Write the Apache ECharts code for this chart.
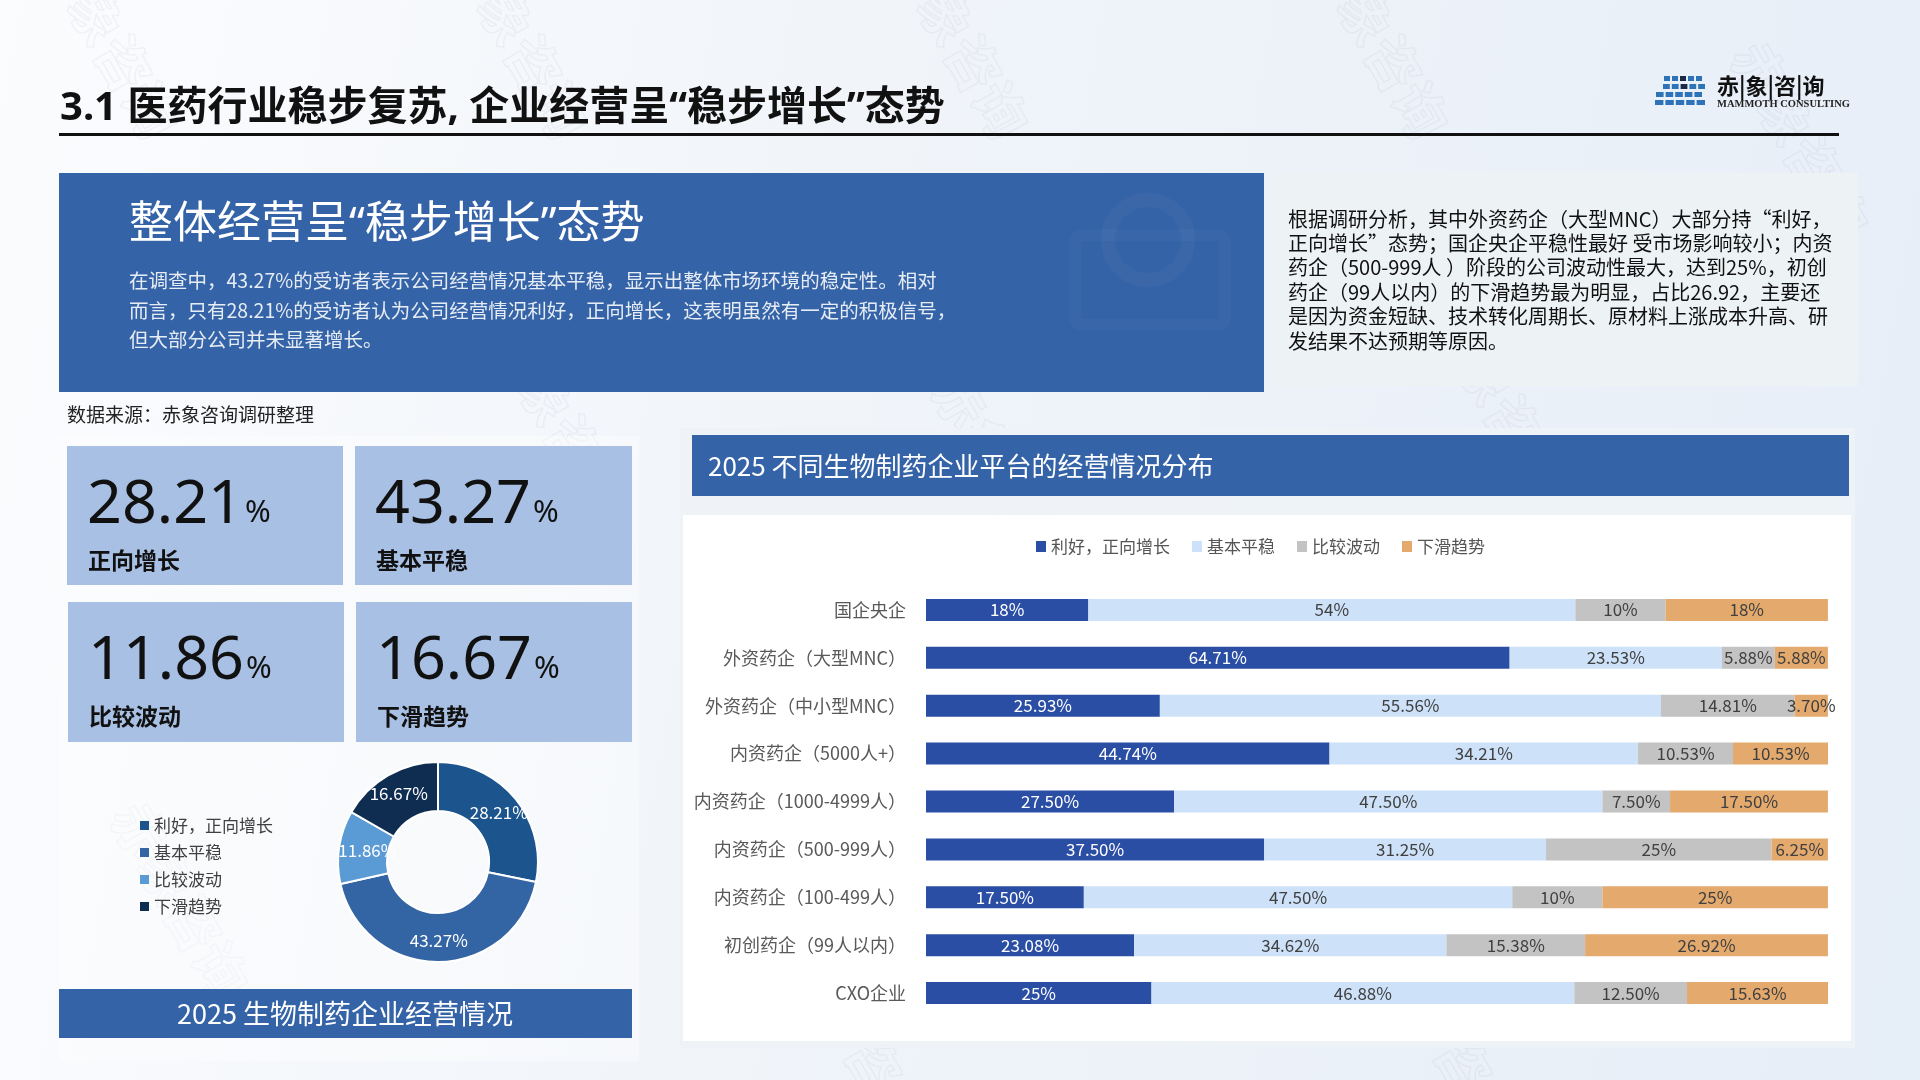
<!DOCTYPE html>
<html>
<head>
<meta charset="utf-8">
<script src="https://cdn.jsdelivr.net/npm/echarts@6/dist/echarts.min.js"></script>
<style>
  html, body { margin: 0; padding: 0; }
  body { background: linear-gradient(100deg, #fbfcfe 0%, #f0f4f9 45%, #e6eef8 100%); }
  #main { width: 1920px; height: 1080px; }
</style>
</head>
<body>
<div id="main"></div>
<script>
// ---- data ----
var categories = ['国企央企', '外资药企（大型MNC）', '外资药企（中小型MNC）', '内资药企（5000人+）',
  '内资药企（1000-4999人）', '内资药企（500-999人）', '内资药企（100-499人）', '初创药企（99人以内）', 'CXO企业'];
var statusNames = ['利好，正向增长', '基本平稳', '比较波动', '下滑趋势'];
var growthValues = [18, 64.71, 25.93, 44.74, 27.5, 37.5, 17.5, 23.08, 25];
var stableValues = [54, 23.53, 55.56, 34.21, 47.5, 31.25, 47.5, 34.62, 46.88];
var volatileValues = [10, 5.88, 14.81, 10.53, 7.5, 25, 10, 15.38, 12.5];
var declineValues = [18, 5.88, 3.7, 10.53, 17.5, 6.25, 25, 26.92, 15.63];
var overallValues = [28.21, 43.27, 11.86, 16.67];
var cardLabels = ['正向增长', '基本平稳', '比较波动', '下滑趋势'];

var barColors = ['#2B4EA5', '#CDE1F8', '#C3C3C3', '#E3A96D'];
var pieColors = ['#1C548E', '#3364A4', '#5B9BD5', '#0F2C51'];
var CJK = '"Noto Sans CJK SC", "Noto Sans", sans-serif';
var LATIN_CJK = '"Noto Sans", "Noto Sans CJK SC", sans-serif';
var BLUE = '#3563A7';

var chart = echarts.init(document.getElementById('main'));

function fmtPct(v) {
  return (Math.round(v) === v ? v : v.toFixed(2)) + '%';
}

function txt(x, y, text, size, fill, extra) {
  var st = { text: text, fill: fill, fontSize: size, fontFamily: CJK, align: 'left', verticalAlign: 'middle' };
  for (var k in extra) st[k] = extra[k];
  return { type: 'text', x: x, y: y, style: st };
}

var graphics = [];

// faint watermarks
var wmPos = [[110, 40], [520, 40], [960, 40], [1380, 40], [1800, 140], [560, 420], [1000, 470], [1500, 400],
  [180, 900], [760, 760], [1230, 700], [1700, 740], [860, 1040], [1450, 1040]];
wmPos.forEach(function (p) {
  graphics.push({ type: 'text', x: p[0], y: p[1], rotation: -Math.PI / 3,
    style: { text: '赤象咨询', fill: 'none', stroke: 'rgba(110,120,135,0.07)', lineWidth: 1.5, fontSize: 54, fontFamily: CJK, fontWeight: 'bold', align: 'center', verticalAlign: 'middle' } });
});

// title
graphics.push(txt(60, 109, '3.1 医药行业稳步复苏, 企业经营呈“稳步增长”态势', 40, '#111', { fontWeight: 'bold', fontFamily: LATIN_CJK }));
graphics.push({ type: 'rect', shape: { x: 59, y: 133, width: 1780, height: 3 }, style: { fill: '#111' } });

// logo
var stripeRows = [[1664, 40], [1660, 44], [1656, 48], [1652, 52]];
stripeRows.forEach(function (r, i) {
  for (var j = 0; j < 5; j++) {
    graphics.push({ type: 'rect', shape: { x: r[0] + j * (r[1] / 5) + (i % 2) * 3, y: 76 + i * 8, width: r[1] / 5 - 2, height: 5 },
      style: { fill: j === 2 && i < 2 ? '#1a2a44' : '#2E72B8' } });
  }
});
graphics.push(txt(1717, 86, '赤|象|咨|询', 22, '#111', { fontWeight: 'bold' }));
graphics.push(txt(1717, 104, 'MAMMOTH CONSULTING', 10.5, '#222', { fontWeight: 'bold', fontFamily: '"Liberation Serif", serif' }));

// banner
graphics.push({ type: 'rect', shape: { x: 59, y: 173, width: 1205, height: 219 }, style: { fill: BLUE } });
graphics.push({ type: 'circle', shape: { cx: 1148, cy: 240, r: 40 }, style: { fill: 'none', stroke: 'rgba(255,255,255,0.03)', lineWidth: 14 } });
graphics.push({ type: 'rect', shape: { x: 1075, y: 235, width: 150, height: 90, r: 8 }, style: { fill: 'none', stroke: 'rgba(255,255,255,0.025)', lineWidth: 12 } });
graphics.push(txt(129, 225, '整体经营呈“稳步增长”态势', 44, '#fff', { fontFamily: LATIN_CJK }));
var para = ['在调查中，43.27%的受访者表示公司经营情况基本平稳，显示出整体市场环境的稳定性。相对',
  '而言，只有28.21%的受访者认为公司经营情况利好，正向增长，这表明虽然有一定的积极信号，',
  '但大部分公司并未显著增长。'];
para.forEach(function (s, i) { graphics.push(txt(129, 281 + i * 29.5, s, 19.5, 'rgba(255,255,255,0.88)')); });

// right note box
graphics.push({ type: 'rect', shape: { x: 1277, y: 173, width: 581, height: 213 }, style: { fill: '#EDF2F4' } });
var note = ['根据调研分析，其中外资药企（大型MNC）大部分持“利好，',
  '正向增长”态势；国企央企平稳性最好 受市场影响较小；内资',
  '药企（500-999人 ）阶段的公司波动性最大，达到25%，初创',
  '药企（99人以内）的下滑趋势最为明显，占比26.92，主要还',
  '是因为资金短缺、技术转化周期长、原材料上涨成本升高、研',
  '发结果不达预期等原因。'];
note.forEach(function (s, i) { graphics.push(txt(1288, 219 + i * 24.4, s, 20, '#111')); });

// left panel
graphics.push(txt(67, 415, '数据来源：赤象咨询调研整理', 19, '#222'));
graphics.push({ type: 'rect', shape: { x: 59, y: 436, width: 580, height: 625 }, style: { fill: 'rgba(255,255,255,0.35)' } });
var cardBoxes = [[67, 446, 276, 139], [355, 446, 277, 139], [68, 602, 276, 140], [356, 602, 276, 140]];
cardBoxes.forEach(function (b, i) {
  graphics.push({ type: 'rect', shape: { x: b[0], y: b[1], width: b[2], height: b[3] }, style: { fill: '#A8C0E3' } });
  graphics.push({ type: 'text', x: b[0] + 20, y: b[1] + 59, style: {
    text: '{n|' + overallValues[i].toFixed(2) + '}{p|%}', align: 'left', verticalAlign: 'middle',
    rich: {
      n: { fontSize: 61, fontFamily: '"Noto Sans", sans-serif', fill: '#111', verticalAlign: 'bottom', lineHeight: 62 },
      p: { fontSize: 31, fontFamily: '"Noto Sans", sans-serif', fill: '#111', verticalAlign: 'bottom', lineHeight: 31, padding: [0, 0, 7, 2] }
    } } });
  graphics.push(txt(b[0] + 21, b[1] + 114, cardLabels[i], 23, '#111', { fontWeight: 'bold' }));
});
graphics.push({ type: 'rect', shape: { x: 59, y: 989, width: 573, height: 49 }, style: { fill: BLUE } });
graphics.push(txt(345, 1014, '2025 生物制药企业经营情况', 27, '#fff', { align: 'center' }));

// right chart panel
graphics.push({ type: 'rect', shape: { x: 680, y: 428, width: 1175, height: 620 }, style: { fill: 'rgba(238,243,246,0.9)' } });
graphics.push({ type: 'rect', shape: { x: 692, y: 435, width: 1157, height: 61 }, style: { fill: BLUE } });
graphics.push(txt(708, 466, '2025 不同生物制药企业平台的经营情况分布', 26, '#fff'));
graphics.push({ type: 'rect', shape: { x: 683, y: 515, width: 1168, height: 526 }, style: { fill: '#ffffff' } });

var barSeriesData = [growthValues, stableValues, volatileValues, declineValues];
var barSeries = statusNames.map(function (name, i) {
  return {
    name: name,
    type: 'bar',
    stack: 'total',
    barWidth: 22,
    data: barSeriesData[i],
    itemStyle: { color: barColors[i] },
    label: {
      show: true,
      position: 'inside',
      color: i === 0 ? '#ffffff' : '#404040',
      fontSize: 17,
      fontFamily: CJK,
      formatter: function (p) { return fmtPct(p.value); }
    }
  };
});

var option = {
  backgroundColor: 'transparent',
  animation: false,
  graphic: { elements: graphics },
  legend: [{
    data: statusNames.map(function (n, i) { return { name: n, itemStyle: { color: barColors[i] } }; }),
    left: 1031,
    top: 533,
    icon: 'rect',
    itemWidth: 10,
    itemHeight: 11,
    itemGap: 22,
    textStyle: { color: '#555', fontSize: 17, fontFamily: CJK }
  }, {
    data: statusNames.map(function (n, i) { return { name: n, itemStyle: { color: pieColors[i] } }; }),
    orient: 'vertical',
    left: 135,
    top: 812,
    icon: 'rect',
    itemWidth: 9,
    itemHeight: 9,
    itemGap: 10,
    textStyle: { color: '#404040', fontSize: 17, fontFamily: CJK }
  }],
  grid: { left: 926, right: 92, top: 586, height: 431, containLabel: false },
  xAxis: { type: 'value', min: 0, max: 'dataMax', show: false },
  yAxis: {
    type: 'category',
    inverse: true,
    data: categories,
    axisLine: { show: false },
    axisTick: { show: false },
    axisLabel: { color: '#595959', fontSize: 18, fontFamily: CJK, margin: 20 }
  },
  series: barSeries.concat([{
    type: 'pie',
    center: [438, 862],
    radius: [51, 100],
    startAngle: 90,
    clockwise: true,
    avoidLabelOverlap: false,
    itemStyle: { borderColor: '#ffffff', borderWidth: 2 },
    label: {
      show: true,
      position: 'inside',
      color: '#ffffff',
      fontSize: 17,
      fontFamily: CJK,
      formatter: function (p) { return p.value + '%'; }
    },
    labelLine: { show: false },
    data: statusNames.map(function (n, i) {
      var item = { name: n, value: overallValues[i], itemStyle: { color: pieColors[i] } };
      if (i === 2) item.label = { offset: [7, 0] };
      return item;
    })
  }])
};

chart.setOption(option);
</script>
</body>
</html>
